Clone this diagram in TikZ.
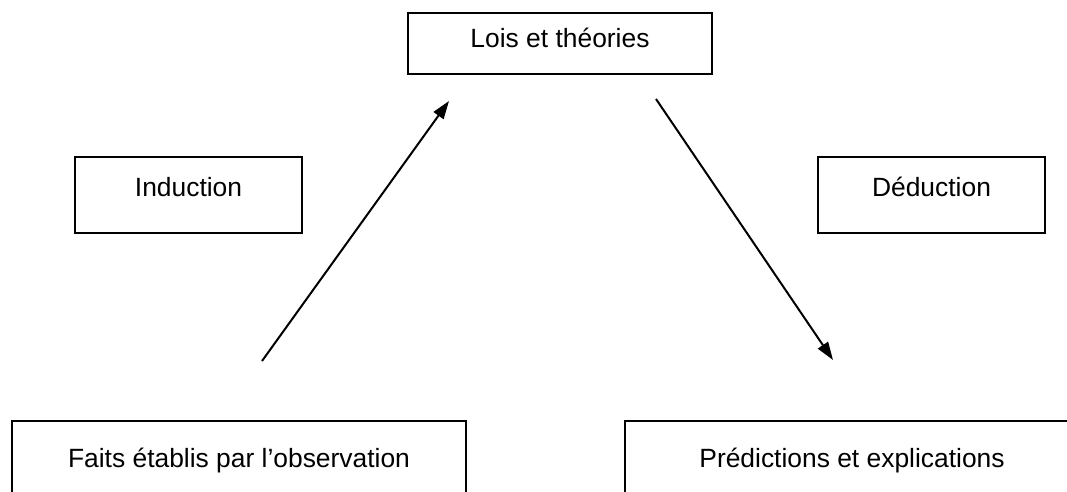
\documentclass[tikz,border=0pt]{standalone}
\usepackage{fontspec}
\setmainfont{Liberation Sans}
\usetikzlibrary{arrows.meta}
\begin{document}
\begin{tikzpicture}[x=1pt,y=-1pt,
  box/.style={draw=black, line width=2pt, rectangle, inner sep=0pt,
    anchor=north west, font=\fontsize{26.4pt}{30pt}\selectfont, text height=0.72em},
  conn/.style={line width=2pt, -{Triangle[length=18pt,width=12pt]}}]
\useasboundingbox (0,0) rectangle (1067,492);
\fill[white] (0,0) rectangle (1067,492);
\node[box, minimum width=304pt, minimum height=61pt, text depth=0em] (lois) at (407,12) {Lois et théories};
\node[box, minimum width=227pt, minimum height=76pt, text depth=0.46em] (ind) at (74,156) {Induction};
\node[box, minimum width=227pt, minimum height=76pt, text depth=0.46em] (ded) at (817,156) {Déduction};
\node[box, minimum width=454pt, minimum height=100pt, text depth=1.36em] (faits) at (11,420) {Faits établis par l’observation};
\node[box, minimum width=454pt, minimum height=100pt, text depth=1.36em] (pred) at (624,420) {Prédictions et explications};
\coordinate (a1) at (262,361);
\coordinate (a2) at (449,101);
\coordinate (b1) at (656,99);
\coordinate (b2) at (833,360);
\draw[conn] (a1) -- (a2);
\draw[conn] (b1) -- (b2);
\end{tikzpicture}
\end{document}
